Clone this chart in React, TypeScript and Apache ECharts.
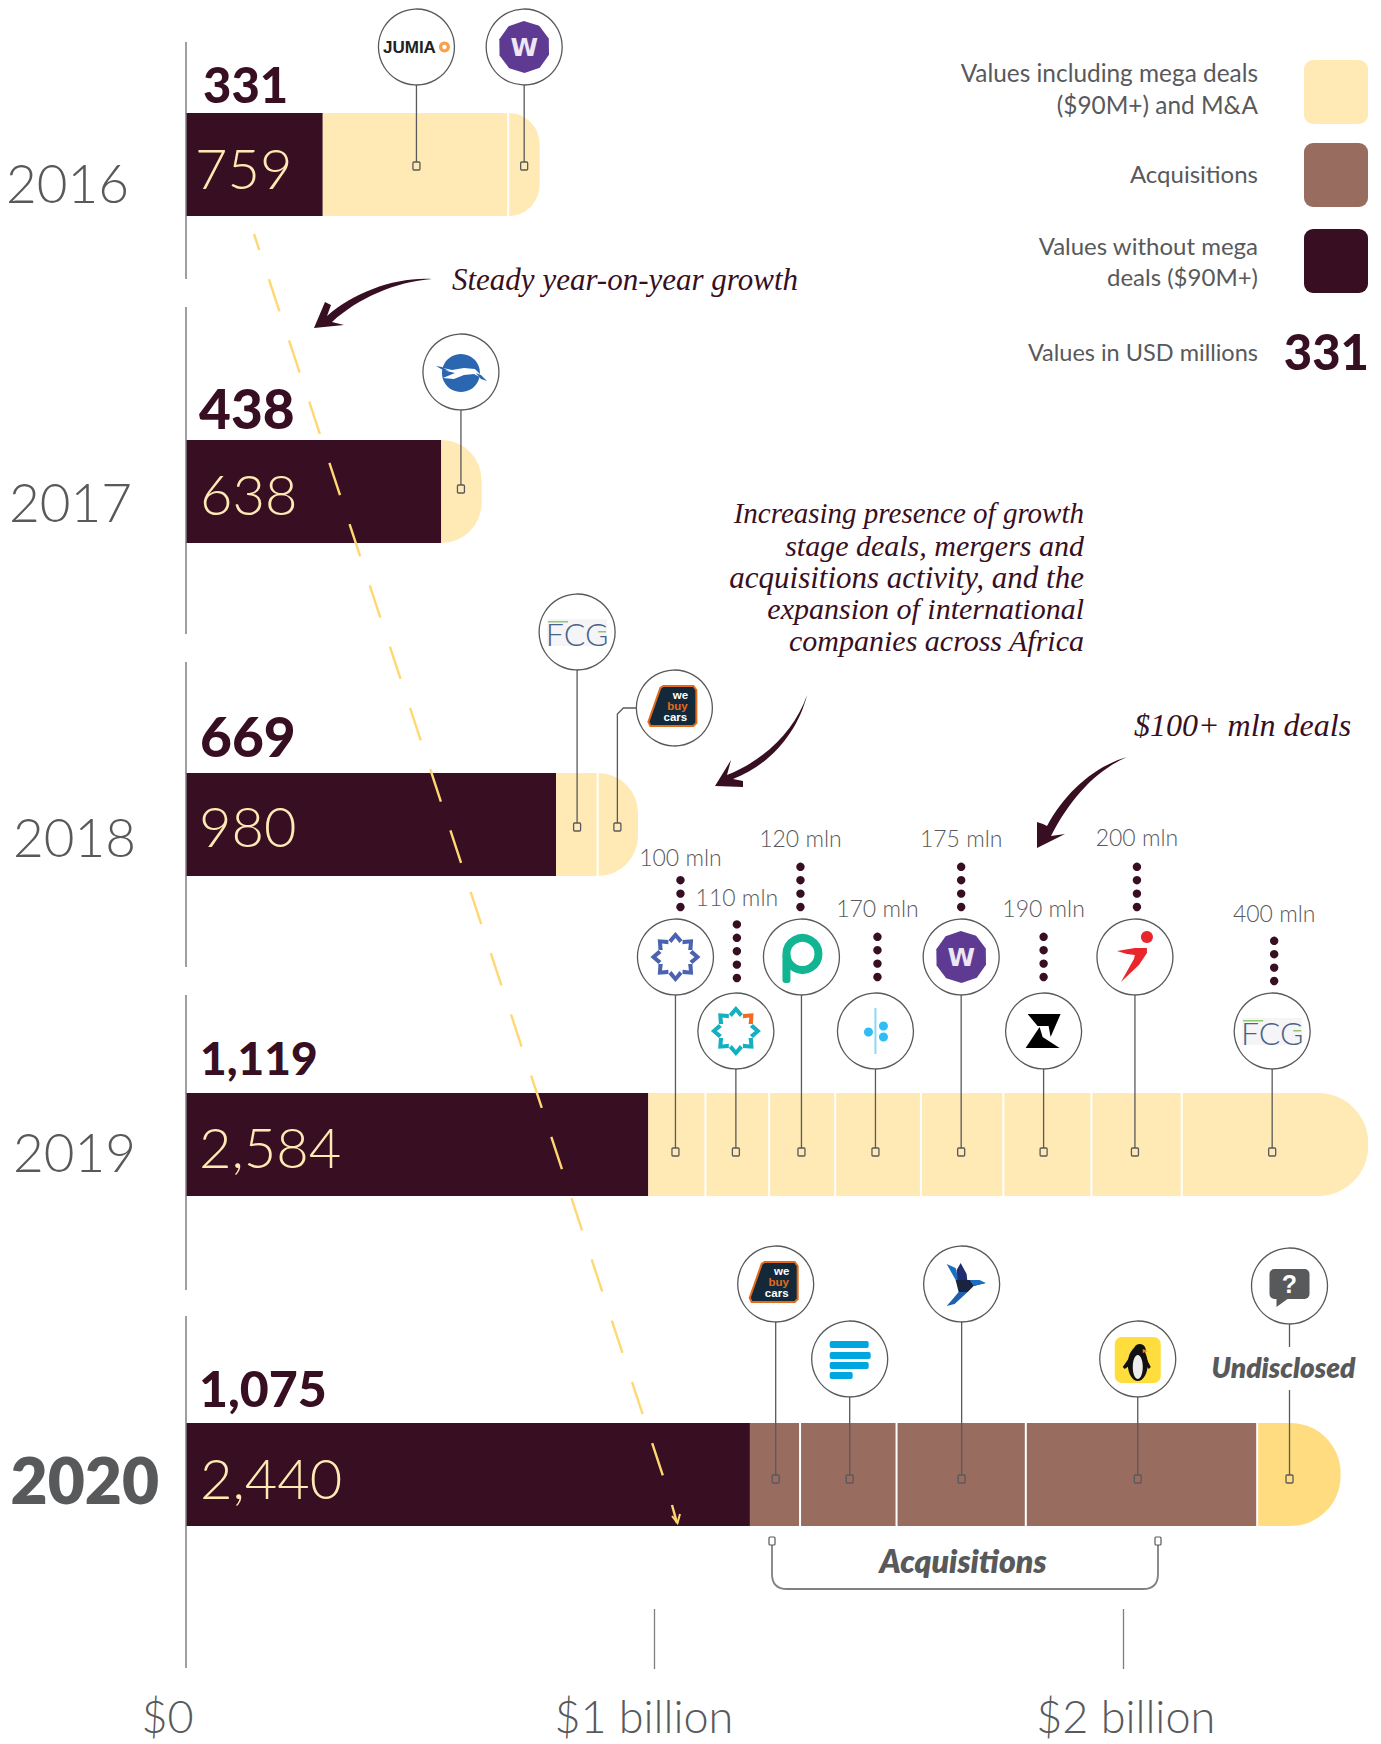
import React, { useEffect, useRef } from "react";
import * as echarts from "echarts";

// ---------- data (axis units, USD millions) ----------
const years = ["2016", "2017", "2018", "2019", "2020"];
const totalLabels = [759, 638, 980, 2584, 2440];
const withoutMegaLabels = [331, 438, 669, 1119, 1075];
const darkSegments = [292, 545, 790, 987, 1204];
const dealSegments2016 = [396, 67];
const dealSegments2017 = [86];
const dealSegments2018 = [89, 86];
const dealSegments2019 = [122, 136, 141, 183, 176, 188, 193, 398];
const acquisitionSegments2020 = [107, 206, 276, 494];
const undisclosedSegments2020 = [178];
const calloutValues2016 = [492, 722];
const calloutValues2017 = [587];
const calloutValues2018 = [835, 921];
const calloutValues2019 = [1045, 1174, 1314, 1472, 1655, 1831, 2026, 2319];
const calloutValues2020 = [1259, 1417, 1656, 2032, 2356];
const logos2016 = ["jumia", "wave"];
const logos2017 = ["swoosh"];
const logos2018 = ["fcg", "wbc"];
const logos2019 = ["star", "ring", "p", "dots", "wave", "z", "runner", "fcg"];
const logos2020 = ["wbc", "bars", "bird", "penguin", "question"];
const dealLabels2019 = ["100 mln", "110 mln", "120 mln", "170 mln", "175 mln", "190 mln", "200 mln", "400 mln"];
const axisTickValues = [1000, 2000];
const axisLabelValues = [0, 1000, 2000];
const axisLabelTexts = ["$0", "$1 billion", "$2 billion"];
const legendEntries = [
  ["Values including mega deals", "($90M+) and M&A"],
  ["Acquisitions"],
  ["Values without mega", "deals ($90M+)"],
];

// ---------- styles and layout ----------
const DARK = "#380F22";
const CREAM = "#FFE9B5";
const BROWN = "#986C5F";
const GOLD = "#FFDC80";
const GREY = "#58595B";
const YELLOW = "#FFD873";
const LIGHT_FONT = "Lato";
const HAND_FONT = "Liberation Serif";

const GRID_LEFT = 186;
const GRID_WIDTH = 1185;
const AXIS_MAX = 2530;
const BAR_TOPS = [113, 440, 773, 1093, 1423];
const BAR_HEIGHT = 103;
const AXIS_LINES = [[42, 279], [307, 634], [662, 967], [995, 1290], [1316, 1668]];
const YEAR_RIGHT = [129, 132, 136, 136, 159];
const YEAR_DROP = [18, 10, 12, 7, 5];
const TOTAL_INSET = [9, 14, 13, 13, 14];
const TOTAL_DROP = [3, 2, 1, 2, 3];
const BOLD_POS = [[203, 84], [199, 408], [200, 736], [200, 1057], [199, 1388]];
const BOLD_SIZE = [49, 55, 55, 46, 50];
const END_RADIUS = [31, 40, 40, 50, 50];
const SQUARE_Y = [166, 489, 827, 1152, 1479];
const CIRCLE_Y = [
  [47, 47],
  [372],
  [632, 708],
  [957, 1031, 957, 1031, 957, 1031, 957, 1031],
  [1284, 1359, 1284, 1359, 1286],
];
const DEAL_LABEL_STYLE = [
  { y: 857, dx: 5, dots: 3, dotEnd: 907 },
  { y: 897, dx: 1, dots: 5, dotEnd: 978 },
  { y: 838, dx: -1, dots: 4, dotEnd: 907 },
  { y: 908, dx: 2, dots: 4, dotEnd: 977 },
  { y: 838, dx: 0, dots: 4, dotEnd: 907 },
  { y: 908, dx: 0, dots: 4, dotEnd: 977 },
  { y: 837, dx: 2, dots: 4, dotEnd: 907 },
  { y: 913, dx: 2, dots: 4, dotEnd: 981 },
];
const R = 38;

echarts.graphic.registerShape(
  "arrowSteady",
  echarts.graphic.extendPath("M432 279 C395 277 355 292 327 316 L331 305 L325 302 L314 328 L344 325 L332 322 C358 298 395 282 432 279 Z", {})
);
echarts.graphic.registerShape(
  "arrowGrowth",
  echarts.graphic.extendPath("M807 695 C795 730 765 760 727 775 L731 760 L715 786 L743 787 L743 781 L733 779 C770 765 798 732 807 695 Z", {})
);
echarts.graphic.registerShape(
  "arrowDeals",
  echarts.graphic.extendPath("M1127 757 C1093 767 1065 793 1047 826 L1043 824 L1037 822 L1037 848 L1065 834 L1051 836 C1071 797 1097 770 1127 757 Z", {})
);
echarts.graphic.registerShape(
  "bracket",
  echarts.graphic.extendPath("M772 1545 L772 1574 Q772 1589 787 1589 L1143 1589 Q1158 1589 1158 1574 L1158 1545", {})
);

// ---------- logo drawing helpers (relative to the circle centre) ----------
const poly = (points: number[][], fill: string) => ({ type: "polygon", shape: { points }, style: { fill } });
const circ = (cx: number, cy: number, r: number, fill: string) => ({ type: "circle", shape: { cx, cy, r }, style: { fill } });
const ell = (cx: number, cy: number, rx: number, ry: number, fill: string) => ({ type: "ellipse", shape: { cx, cy, rx, ry }, style: { fill } });
const box = (x: number, y: number, width: number, height: number, r: number, fill: string) => ({
  type: "rect",
  shape: { x, y, width, height, r },
  style: { fill },
});
const txt = (text: string, x: number, y: number, fontSize: number, fontWeight: any, fill: string, fontFamily = "Liberation Sans", fontStyle = "normal", align = "center") => ({
  type: "text",
  style: { text, x, y, fontSize, fontWeight, fill, fontFamily, fontStyle, align, verticalAlign: "middle" },
});
const rotatePts = (pts: number[][], a: number) =>
  pts.map(([x, y]) => [x * Math.cos(a) - y * Math.sin(a), x * Math.sin(a) + y * Math.cos(a)]);
const CHEVRON = [[-7, -17], [0, -25], [7, -17], [4, -14], [0, -19], [-4, -14]];
const chevronRing = (color: string, accentIndex = -1, accent = "") =>
  Array.from({ length: 8 }, (_, k) => poly(rotatePts(CHEVRON, (k * Math.PI) / 4), k === accentIndex ? accent : color));

function logo(name: string): any[] {
  switch (name) {
    case "jumia":
      return [txt("JUMIA", -7, 0, 17, 700, "#222222"), circ(28, 0, 5.5, "#F9A14A"), circ(28, 0, 2.2, "#FFFFFF")];
    case "wave": {
      const pts = Array.from({ length: 10 }, (_, k) => [26 * Math.cos((k * Math.PI) / 5 + 0.3), 26 * Math.sin((k * Math.PI) / 5 + 0.3)]);
      return [poly(pts, "#5F3A93"), txt("W", 0, 0, 25, 700, "#EDE6F5", "DejaVu Sans")];
    }
    case "swoosh":
      return [
        circ(0, 1, 19, "#2B66B1"),
        poly([[-22, -5], [-9, -2], [3, -4], [14, -3], [25, 8], [13, 2], [3, 3], [-7, 7], [-18, 6], [-6, 1], [-14, -1]], "#FFFFFF"),
        poly([[-25, -6], [-19, -5], [-12, -1], [-18, -2]], "#2B66B1"),
        poly([[15, 1], [20, 3], [26, 9], [20, 7]], "#2B66B1"),
      ];
    case "fcg":
      return [
        box(-30, -13, 60, 27, 0, "#F5F5F8"),
        txt("FCG", 0, 1, 32, 300, "#4A6288", LIGHT_FONT),
        box(-29, -11, 20, 1.5, 0, "#8CC96A"),
        box(21, -1, 8, 1.5, 0, "#8CC96A"),
      ];
    case "wbc":
      return [
        { ...poly([[-11, -22], [19, -22], [22, -18], [22, 15], [19, 18], [-24, 18], [-26, 14], [-14, -20]], "#13293A"), style: { fill: "#13293A", stroke: "#E46A1B", lineWidth: 2 } },
        txt("we", 6, -13, 11.5, 700, "#FFFFFF"),
        txt("buy", 3, -2, 11.5, 700, "#E46A1B"),
        txt("cars", 1, 9, 11.5, 700, "#FFFFFF"),
      ];
    case "star":
      return chevronRing("#4A62B0");
    case "ring":
      return chevronRing("#12B0C0", 1, "#F26B21");
    case "p":
      return [
        { type: "circle", shape: { cx: 1, cy: -3, r: 16 }, style: { fill: "none", stroke: "#12B592", lineWidth: 8 } },
        box(-19, -4, 8, 30, 3, "#12B592"),
      ];
    case "dots":
      return [box(-1, -23, 2, 46, 0, "#8BD9F3"), circ(-7, 1, 4.5, "#2FBDF5"), circ(8, -5, 4.5, "#2FBDF5"), circ(8, 6, 4.5, "#2FBDF5")];
    case "z":
      return [
        poly([[-16, -17], [17, -17], [7, 6], [5, -5], [-6, -5]], "#000000"),
        poly([[-18, 17], [-4, -4], [-1, 6], [16, 17]], "#000000"),
      ];
    case "runner":
      return [
        circ(12, -20, 6, "#E8262B"),
        poly([[-18, -6], [0, -9], [12, -9], [12, -4], [4, 8], [-14, 25], [-1, 2], [0, -2], [-8, -3]], "#E8262B"),
      ];
    case "bird":
      return [
        poly([[-15, -20], [-6, -4], [0, 6], [-3, -4], [-6, -16]], "#1A6FC0"),
        poly([[-1, -21], [5, -10], [6, 0], [-4, -4], [-5, -14]], "#1F2E6E"),
        poly([[-6, -4], [8, -4], [24, -1], [12, 2], [6, 8], [-3, 8]], "#1A2340"),
        poly([[8, -4], [18, -4], [24, -1], [12, 2]], "#1A6FC0"),
        poly([[-3, 8], [6, 8], [-7, 20], [-15, 22], [-8, 14]], "#1F5FB0"),
      ];
    case "bars":
      return [box(-20, -18, 39, 7, 2, "#00A6E0"), box(-20, -7, 41, 7, 2, "#00A6E0"), box(-20, 3, 39, 7, 2, "#00A6E0"), box(-20, 13, 23, 7, 2, "#00A6E0")];
    case "penguin":
      return [
        box(-23, -22, 46, 46, 7, "#FFDD3C"),
        ell(0, 5, 10, 17, "#111111"),
        circ(2, -9, 6, "#111111"),
        poly([[-8, -2], [-15, 8], [-13, 10], [-6, 5]], "#111111"),
        poly([[8, -2], [13, 8], [11, 10], [7, 5]], "#111111"),
        ell(0, 8, 5, 12, "#EDEDED"),
        poly([[5, -10], [10, -8], [5, -6]], "#E8862A"),
      ];
    case "question":
      return [
        box(-20, -17, 40, 30, 5, GREY),
        poly([[-13, 13], [-13, 21], [-2, 13]], GREY),
        txt("?", 0, -2, 25, 700, "#FFFFFF"),
      ];
    default:
      return [];
  }
}

// ---------- series builders ----------
const rowSegments = [
  [darkSegments[0], ...dealSegments2016],
  [darkSegments[1], ...dealSegments2017],
  [darkSegments[2], ...dealSegments2018],
  [darkSegments[3], ...dealSegments2019],
  [darkSegments[4], ...acquisitionSegments2020, ...undisclosedSegments2020],
];
const rowCallouts = [calloutValues2016, calloutValues2017, calloutValues2018, calloutValues2019, calloutValues2020];
const rowLogos = [logos2016, logos2017, logos2018, logos2019, logos2020];

const segmentColor = (row: number, idx: number, count: number) => {
  if (idx === 0) return DARK;
  if (row === 4) return idx === count - 1 ? GOLD : BROWN;
  return CREAM;
};

function barSeries(row: number) {
  const segs = rowSegments[row];
  return segs.map((v, idx) => ({
    type: "bar",
    name: `${years[row]}-${idx}`,
    stack: `row${row}`,
    xAxisIndex: row,
    yAxisIndex: row,
    barWidth: "100%",
    silent: true,
    z: 2,
    data: [v],
    itemStyle: {
      color: segmentColor(row, idx, segs.length),
      borderRadius: idx === segs.length - 1 ? [0, END_RADIUS[row], END_RADIUS[row], 0] : 0,
    },
    label:
      idx === 0
        ? {
            show: true,
            position: "insideLeft",
            distance: TOTAL_INSET[row],
            offset: [0, TOTAL_DROP[row]],
            formatter: () => totalLabels[row].toLocaleString("en-US"),
            color: CREAM,
            fontFamily: LIGHT_FONT,
            fontWeight: 300,
            fontSize: 56,
          }
        : { show: false },
  }));
}

function separatorSeries(row: number) {
  const segs = rowSegments[row];
  let sum = segs[0];
  const bounds: number[][] = [];
  for (let k = 1; k < segs.length - 1; k++) {
    sum += segs[k];
    bounds.push([sum, 0]);
  }
  return {
    type: "custom",
    xAxisIndex: row,
    yAxisIndex: row,
    silent: true,
    z: 3,
    data: bounds,
    encode: { x: 0, y: 1 },
    renderItem: (_p: any, api: any) => {
      const x = api.coord([api.value(0), 0])[0];
      return {
        type: "rect",
        shape: { x: x - 1, y: BAR_TOPS[row], width: 2, height: BAR_HEIGHT },
        style: { fill: "#FFFFFF" },
      };
    },
  };
}

function calloutSeries(row: number) {
  return {
    type: "custom",
    xAxisIndex: row,
    yAxisIndex: row,
    silent: true,
    z: 4,
    data: rowCallouts[row].map((v) => [v, 0]),
    encode: { x: 0, y: 1 },
    renderItem: (params: any, api: any) => {
      const j = params.dataIndex;
      const x = api.coord([api.value(0), 0])[0];
      const sy = SQUARE_Y[row];
      const cy = CIRCLE_Y[row][j];
      const name = rowLogos[row][j];
      const lineStyle = { stroke: GREY, lineWidth: 1.3, fill: "none" };
      const elbow = row === 2 && j === 1;
      const cx = elbow ? x + 57 : x;
      const children: any[] = [];
      if (elbow) {
        children.push({
          type: "polyline",
          shape: { points: [[x, sy - 4], [x, cy + 6], [x + 6, cy], [cx - R, cy]] },
          style: lineStyle,
        });
      } else if (name === "question") {
        children.push({ type: "line", shape: { x1: x, y1: cy + R, x2: x, y2: 1347 }, style: lineStyle });
        children.push({ type: "line", shape: { x1: x, y1: 1390, x2: x, y2: sy - 4 }, style: lineStyle });
        children.push(txt("Undisclosed", x - 6, 1367, 28, 800, GREY, "Lato", "italic"));
      } else {
        children.push({ type: "line", shape: { x1: x, y1: cy + R, x2: x, y2: sy - 4 }, style: lineStyle });
      }
      children.push({ type: "rect", shape: { x: x - 3.5, y: sy - 4, width: 7, height: 8, r: 1 }, style: lineStyle });
      children.push({ type: "circle", shape: { cx, cy, r: R }, style: { fill: "#FFFFFF", stroke: GREY, lineWidth: 1.3 } });
      children.push({ type: "group", x: cx, y: cy, children: logo(name) });
      if (row === 3) {
        const st = DEAL_LABEL_STYLE[j];
        children.push(txt(dealLabels2019[j], x + st.dx, st.y, 23, 300, GREY, LIGHT_FONT));
        for (let d = 0; d < st.dots; d++) {
          children.push(circ(x + st.dx, st.dotEnd - d * 13.4, 4.2, DARK));
        }
      }
      return { type: "group", children };
    },
  };
}

// ---------- free graphics ----------
function buildGraphic() {
  const els: any[] = [];
  AXIS_LINES.forEach(([y1, y2]) =>
    els.push({ type: "line", shape: { x1: GRID_LEFT, y1, x2: GRID_LEFT, y2 }, style: { stroke: "#7F7F7F", lineWidth: 1.5 }, z: 6 })
  );
  withoutMegaLabels.forEach((v, i) =>
    els.push({
      type: "text",
      x: BOLD_POS[i][0],
      y: BOLD_POS[i][1],
      style: { text: v.toLocaleString("en-US"), fontFamily: "Lato", fontWeight: 900, fontSize: BOLD_SIZE[i], fill: DARK, align: "left", verticalAlign: "middle" },
      z: 6,
    })
  );
  // trend line
  els.push({
    type: "line",
    shape: { x1: 254, y1: 234, x2: 663, y2: 1476 },
    style: { stroke: YELLOW, lineWidth: 2.4, lineDash: [34, 30.5], lineDashOffset: 17 },
    z: 8,
  });
  els.push({ type: "line", shape: { x1: 672, y1: 1505, x2: 677, y2: 1523 }, style: { stroke: YELLOW, lineWidth: 2.4 }, z: 8 });
  els.push({ type: "polyline", shape: { points: [[672, 1516], [677.5, 1523], [680, 1514]] }, style: { stroke: YELLOW, lineWidth: 2, fill: "none" }, z: 8 });
  // arrows
  ["arrowSteady", "arrowGrowth", "arrowDeals"].forEach((t) => els.push({ type: t, style: { fill: DARK }, z: 8 }));
  // annotations
  const hand = (text: string, x: number, y: number, fontSize: number, align: string) => ({
    type: "text",
    x,
    y,
    style: { text, fontFamily: HAND_FONT, fontStyle: "italic", fontSize, fill: DARK, align, verticalAlign: "middle" },
    z: 8,
  });
  els.push(hand("Steady year-on-year growth", 452, 279, 31, "left"));
  els.push(hand("$100+ mln deals", 1134, 725, 32, "left"));
  ["Increasing presence of growth", "stage deals, mergers and", "acquisitions activity, and the", "expansion of international", "companies across Africa"].forEach((t, i) =>
    els.push(hand(t, 1084, [513, 545, 577, 608, 640][i], [29, 30, 31, 30, 30][i], "right"))
  );
  // bracket
  els.push({ type: "bracket", style: { fill: "none", stroke: "#808080", lineWidth: 1.8 }, z: 6 });
  [772, 1158].forEach((x) =>
    els.push({ type: "rect", shape: { x: x - 3, y: 1537, width: 6, height: 8, r: 1 }, style: { fill: "#FFFFFF", stroke: GREY, lineWidth: 1.2 }, z: 7 })
  );
  els.push({
    type: "text",
    x: 963,
    y: 1560,
    style: { text: "Acquisitions", fontFamily: "Lato", fontWeight: 800, fontStyle: "italic", fontSize: 32, fill: GREY, align: "center", verticalAlign: "middle" },
    z: 7,
  });
  // legend
  const legendY = [[72, 104], [173], [245, 276]];
  const swatchTop = [60, 143, 229];
  const swatchColor = [CREAM, BROWN, DARK];
  legendEntries.forEach((lines, i) => {
    lines.forEach((t, k) =>
      els.push({
        type: "text",
        x: 1258,
        y: legendY[i][k],
        style: { text: t, fontFamily: "Lato", fontWeight: 400, fontSize: i === 0 ? 24.4 : 24, fill: GREY, align: "right", verticalAlign: "middle" },
      })
    );
    els.push({ type: "rect", shape: { x: 1304, y: swatchTop[i], width: 64, height: 64, r: 9 }, style: { fill: swatchColor[i] } });
  });
  els.push({
    type: "text",
    x: 1258,
    y: 352,
    style: { text: "Values in USD millions", fontFamily: "Lato", fontWeight: 400, fontSize: 23.5, fill: GREY, align: "right", verticalAlign: "middle" },
  });
  els.push({
    type: "text",
    x: 1369,
    y: 351,
    style: { text: "331", fontFamily: "Lato", fontWeight: 900, fontSize: 49, fill: DARK, align: "right", verticalAlign: "middle" },
  });
  return els;
}

function buildOption() {
  return {
    animation: false,
    backgroundColor: "#FFFFFF",
    grid: BAR_TOPS.map((top) => ({ left: GRID_LEFT, width: GRID_WIDTH, top, height: BAR_HEIGHT })),
    xAxis: years.map((_, i) => ({
      gridIndex: i,
      type: "value",
      min: 0,
      max: AXIS_MAX,
      show: i === 4,
      offset: i === 4 ? 83 : 0,
      splitLine: { show: false },
      axisLine: { show: false },
      axisTick: { show: i === 4, length: 60, customValues: axisTickValues, lineStyle: { color: "#7F7F7F", width: 1.3 } },
      axisLabel: {
        show: i === 4,
        customValues: axisLabelValues,
        margin: 84,
        formatter: (v: number) => {
          const idx = axisLabelValues.indexOf(v);
          return `{s${idx}|${axisLabelTexts[idx]}}`;
        },
        rich: {
          s0: { fontFamily: LIGHT_FONT, fontWeight: 300, fontSize: 45, color: GREY, padding: [0, 37, 0, 0] },
          s1: { fontFamily: LIGHT_FONT, fontWeight: 300, fontSize: 45, color: GREY, padding: [0, 21, 0, 0] },
          s2: { fontFamily: LIGHT_FONT, fontWeight: 300, fontSize: 45, color: GREY, padding: [0, 0, 0, 6] },
        },
      },
    })),
    yAxis: years.map((y, i) => ({
      gridIndex: i,
      type: "category",
      data: [y],
      axisLine: { show: false },
      axisTick: { show: false },
      axisLabel: {
        margin: GRID_LEFT - YEAR_RIGHT[i],
        formatter: (v: string) => `{y|${v}}`,
        rich: {
          y: {
            color: GREY,
            fontFamily: LIGHT_FONT,
            fontWeight: i === 4 ? 800 : 300,
            fontSize: i === 4 ? 64 : 53,
            padding: [YEAR_DROP[i] * 2, 0, 0, 0],
          },
        },
      },
    })),
    series: years.flatMap((_, i) => [...barSeries(i), separatorSeries(i), calloutSeries(i)]),
    graphic: { elements: buildGraphic() },
  };
}

export default function App() {
  const ref = useRef<HTMLDivElement>(null);
  useEffect(() => {
    const chart = echarts.init(ref.current!, undefined, { renderer: "svg" });
    chart.setOption(buildOption() as any);
    return () => chart.dispose();
  }, []);
  return <div ref={ref} style={{ position: "absolute", left: 0, top: 0, width: 1381, height: 1744 }} />;
}
